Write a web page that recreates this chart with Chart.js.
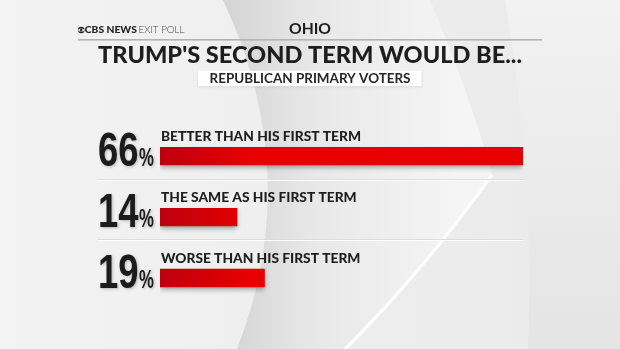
<!DOCTYPE html>
<html>
<head>
<meta charset="utf-8">
<script src="https://cdn.jsdelivr.net/npm/chart.js@4/dist/chart.umd.min.js"></script>
<style>
  html, body { margin: 0; padding: 0; background: #ebebeb; overflow: hidden; }
  #wrap { width: 620px; height: 349px; position: relative; }
  canvas { display: block; }
</style>
</head>
<body>
<div id="wrap"><canvas id="c" width="620" height="349"></canvas></div>
<script>
// Exit poll answers and their shares (percent)
const categories = ['BETTER THAN HIS FIRST TERM', 'THE SAME AS HIS FIRST TERM', 'WORSE THAN HIS FIRST TERM'];
const shares = [66, 14, 19];

// Header texts
const brandBold = 'CBS NEWS';
const brandLight = 'EXIT POLL';
const stateName = 'OHIO';
const headline = "TRUMP'S SECOND TERM WOULD BE...";
const subgroup = 'REPUBLICAN PRIMARY VOTERS';

// Draw text squeezed or stretched horizontally to a given width
function fitText(ctx, text, x, y, font, width, align, color) {
  ctx.save();
  ctx.font = font;
  const s = width / ctx.measureText(text).width;
  ctx.translate(x, y);
  ctx.scale(s, 1);
  ctx.textAlign = align;
  ctx.textBaseline = 'alphabetic';
  ctx.fillStyle = color;
  ctx.fillText(text, 0, 0);
  ctx.restore();
}

// Draw text with a fixed horizontal scale, returns drawn width
function scaledText(ctx, text, x, y, font, sx, color) {
  ctx.save();
  ctx.font = font;
  const w = ctx.measureText(text).width * sx;
  ctx.translate(x, y);
  ctx.scale(sx, 1);
  ctx.textAlign = 'left';
  ctx.textBaseline = 'alphabetic';
  ctx.fillStyle = color;
  ctx.fillText(text, 0, 0);
  ctx.restore();
  return w;
}

// Soft studio backdrop with a large curved swoosh
const backdrop = {
  id: 'backdrop',
  beforeDraw(chart) {
    const ctx = chart.ctx;
    const W = chart.width, H = chart.height;
    ctx.save();
    // right-hand panel
    let g = ctx.createLinearGradient(0, 0, 0, H);
    g.addColorStop(0, '#f2f2f2');
    g.addColorStop(1, '#e4e4e4');
    ctx.fillStyle = g;
    ctx.fillRect(0, 0, W, H);

    // middle strip
    ctx.beginPath();
    ctx.moveTo(0, 0); ctx.lineTo(505, 0);
    ctx.quadraticCurveTo(535, 175, 528, H);
    ctx.lineTo(0, H); ctx.closePath();
    g = ctx.createLinearGradient(300, 0, 530, 0);
    g.addColorStop(0, '#eeeeee');
    g.addColorStop(1, '#ebebeb');
    ctx.fillStyle = g;
    ctx.fill();

    // left light area
    ctx.beginPath();
    ctx.moveTo(0, 0); ctx.lineTo(223, 0);
    ctx.quadraticCurveTo(305, 175, 237, H);
    ctx.lineTo(0, H); ctx.closePath();
    g = ctx.createLinearGradient(0, 0, 260, 0);
    g.addColorStop(0, '#f3f3f3');
    g.addColorStop(1, '#efefef');
    ctx.fillStyle = g;
    ctx.fill();

    // the swoosh (crescent)
    ctx.beginPath();
    ctx.moveTo(223, 0);
    ctx.lineTo(430, 0);
    ctx.quadraticCurveTo(470, 95, 492, 175);
    ctx.quadraticCurveTo(420, 275, 345, H);
    ctx.lineTo(237, H);
    ctx.quadraticCurveTo(305, 175, 223, 0);
    ctx.closePath();
    g = ctx.createLinearGradient(235, 0, 460, 0);
    g.addColorStop(0, '#d6d6d6');
    g.addColorStop(0.35, '#e8e8e8');
    g.addColorStop(1, '#f5f5f5');
    ctx.fillStyle = g;
    ctx.fill();

    // bright rim on the lower arm
    ctx.beginPath();
    ctx.moveTo(492, 175);
    ctx.quadraticCurveTo(420, 275, 345, H);
    ctx.strokeStyle = 'rgba(255,255,255,0.95)';
    ctx.lineWidth = 3;
    ctx.stroke();
    ctx.restore();
  }
};

// Header: brand, state, headline and subgroup box
const header = {
  id: 'header',
  afterDraw(chart) {
    const ctx = chart.ctx;
    ctx.save();
    // brand eye
    ctx.beginPath();
    ctx.arc(81.2, 30, 3.3, 0, Math.PI * 2);
    ctx.fillStyle = '#222';
    ctx.fill();
    ctx.beginPath();
    ctx.ellipse(81.2, 30, 3.0, 1.6, 0, 0, Math.PI * 2);
    ctx.fillStyle = '#f2f2f2';
    ctx.fill();
    ctx.beginPath();
    ctx.arc(81.2, 30, 1.2, 0, Math.PI * 2);
    ctx.fillStyle = '#222';
    ctx.fill();
    fitText(ctx, brandBold, 84.8, 33.3, '900 10px Lato', 52, 'left', '#222');
    fitText(ctx, brandLight, 138.5, 33.3, '300 10px Lato', 46, 'left', '#444');

    fitText(ctx, stateName, 310, 34, 'bold 15px Lato', 42, 'center', '#1e1e1e');

    // rule under the top line
    ctx.fillStyle = '#b4b4b4';
    ctx.fillRect(78, 39, 464, 1.6);

    fitText(ctx, headline, 310, 63.4, '900 22px Lato', 424, 'center', '#1e1e1e');

    // subgroup box
    ctx.shadowColor = 'rgba(0,0,0,0.12)';
    ctx.shadowBlur = 2;
    ctx.shadowOffsetY = 1;
    ctx.fillStyle = '#ffffff';
    ctx.fillRect(198, 70.7, 223.5, 15.5);
    ctx.shadowColor = 'transparent';
    fitText(ctx, subgroup, 310, 82.8, 'bold 12.5px Lato', 201, 'center', '#262626');
    ctx.restore();
  }
};

// Row separators, bar shadows, answer labels and big percentages
const rows = {
  id: 'rows',
  beforeDatasetsDraw(chart) {
    const ctx = chart.ctx;
    const bars = chart.getDatasetMeta(0).data;
    const right = chart.chartArea.right;
    ctx.save();
    for (let i = 0; i < bars.length - 1; i++) {
      const b = bars[i];
      const y = Math.round(b.y + b.height / 2 + 13.5);
      const left = b.base - 63;
      ctx.fillStyle = '#dcdcdc';
      ctx.fillRect(left, y, right - left, 1);
      ctx.fillStyle = 'rgba(255,255,255,0.9)';
      ctx.fillRect(left, y + 1, right - left, 1);
    }
    ctx.restore();
  },
  beforeDatasetDraw(chart) {
    const ctx = chart.ctx;
    ctx.save();
    ctx.shadowColor = 'rgba(0,0,0,0.35)';
    ctx.shadowBlur = 5;
    ctx.shadowOffsetY = 3;
  },
  afterDatasetDraw(chart) {
    chart.ctx.restore();
  },
  afterDatasetsDraw(chart) {
    const ctx = chart.ctx;
    const bars = chart.getDatasetMeta(0).data;
    ctx.save();
    ctx.font = '900 12.5px Lato';
    const labelScale = 200 / ctx.measureText(categories[0]).width;
    ctx.font = 'bold 48px "Liberation Sans"';
    const numScale = 40.5 / ctx.measureText('66').width;
    bars.forEach((b, i) => {
      const top = b.y - b.height / 2;
      const bottom = b.y + b.height / 2;
      scaledText(ctx, categories[i], b.base + 1, top - 6.6, '900 12.5px Lato', labelScale, '#1e1e1e');
      ctx.save();
      ctx.shadowColor = 'rgba(0,0,0,0.25)';
      ctx.shadowBlur = 3;
      ctx.shadowOffsetX = 1;
      ctx.shadowOffsetY = 1;
      const x0 = b.base - 62;
      const w = scaledText(ctx, String(shares[i]), x0, bottom + 0.7, 'bold 48px "Liberation Sans"', numScale, '#1c1c1c');
      scaledText(ctx, '%', x0 + w + 0.5, bottom + 0.7, 'bold 26px "Liberation Sans"', numScale * 0.85, '#1c1c1c');
      ctx.restore();
    });
    ctx.restore();
  }
};

new Chart(document.getElementById('c'), {
  type: 'bar',
  data: {
    labels: categories,
    datasets: [{
      data: shares,
      barThickness: 17.7,
      borderWidth: 0,
      borderSkipped: false,
      backgroundColor(context) {
        const chart = context.chart;
        if (!chart.chartArea) return '#e00000';
        const x0 = chart.scales.x.getPixelForValue(0);
        const g = chart.ctx.createLinearGradient(x0, 0, x0 + 90, 0);
        g.addColorStop(0, '#bd000e');
        g.addColorStop(1, '#e60000');
        return g;
      }
    }]
  },
  options: {
    indexAxis: 'y',
    responsive: false,
    animation: false,
    devicePixelRatio: 1,
    layout: { padding: { left: 160, right: 97, top: 125.7, bottom: 40.5 } },
    scales: {
      x: { display: false, min: 0, max: 66 },
      y: { display: false }
    },
    plugins: {
      legend: { display: false },
      tooltip: { enabled: false }
    }
  },
  plugins: [backdrop, header, rows]
});
</script>
</body>
</html>
